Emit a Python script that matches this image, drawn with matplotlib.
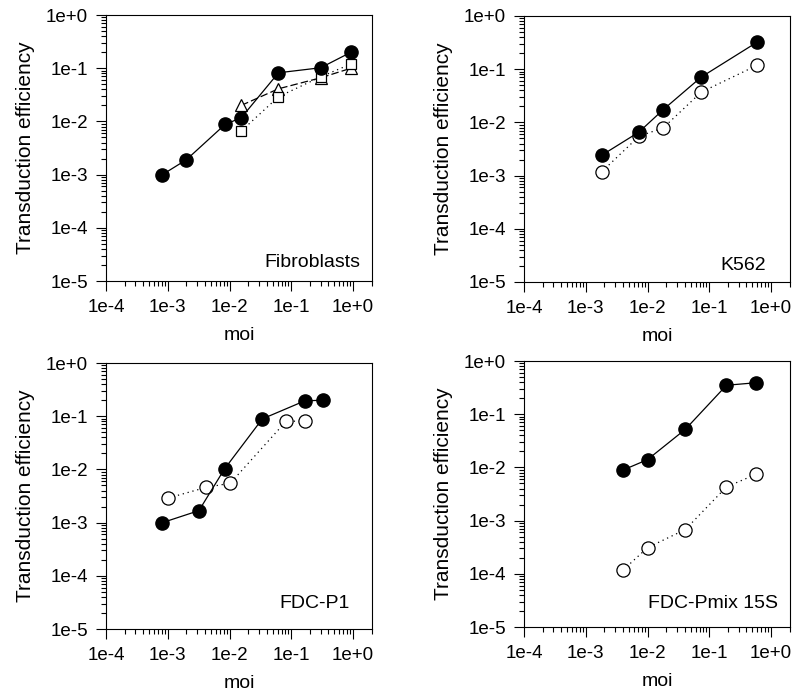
import matplotlib
matplotlib.use("Agg")
import matplotlib.pyplot as plt
from matplotlib.ticker import LogLocator, FixedLocator, FuncFormatter, NullFormatter

plt.rcParams['font.family'] = ['Liberation Sans', 'DejaVu Sans']

# ---- data ----
# Fibroblasts
fib_filled_x = [8.2e-4, 2.0e-3, 8.5e-3, 0.0155, 0.062, 0.30, 0.93]
fib_filled_y = [1.0e-3, 1.9e-3, 8.8e-3, 0.0117, 0.082, 0.102, 0.20]
fib_tri_x = [0.0155, 0.062, 0.30, 0.93]
fib_tri_y = [0.020, 0.041, 0.066, 0.100]
fib_sq_x = [0.0155, 0.062, 0.30, 0.93]
fib_sq_y = [0.0066, 0.029, 0.069, 0.12]

# K562
k562_filled_x = [1.8e-3, 7.3e-3, 0.018, 0.074, 0.59]
k562_filled_y = [2.4e-3, 6.6e-3, 0.0174, 0.071, 0.32]
k562_open_x = [1.8e-3, 7.3e-3, 0.018, 0.074, 0.59]
k562_open_y = [1.17e-3, 5.5e-3, 7.9e-3, 0.037, 0.118]

# FDC-P1
p1_filled_x = [8.2e-4, 3.2e-3, 8.3e-3, 0.034, 0.165, 0.325]
p1_filled_y = [1.0e-3, 1.68e-3, 0.0102, 0.089, 0.194, 0.20]
p1_open_x = [1.02e-3, 4.2e-3, 0.0103, 0.083, 0.165]
p1_open_y = [2.9e-3, 4.6e-3, 5.5e-3, 0.081, 0.080]

# FDC-Pmix 15S
pm_filled_x = [4.0e-3, 0.010, 0.041, 0.19, 0.57]
pm_filled_y = [8.9e-3, 0.014, 0.052, 0.35, 0.39]
pm_open_x = [4.0e-3, 0.010, 0.041, 0.19, 0.57]
pm_open_y = [1.17e-4, 3.1e-4, 6.8e-4, 4.3e-3, 7.4e-3]

decade_ticks = [1e-5, 1e-4, 1e-3, 1e-2, 1e-1, 1e0]
tick_labels = {1e-5: "1e-5", 1e-4: "1e-4", 1e-3: "1e-3", 1e-2: "1e-2", 1e-1: "1e-1", 1e0: "1e+0"}

fig = plt.figure(figsize=(8.0, 6.99), dpi=100)

W, H = 800, 699
def rect(l, t, r, b):
    return [l / W, 1 - b / H, (r - l) / W, (b - t) / H]

axes_rects = [rect(106, 15, 372, 281), rect(524, 16, 790, 282),
              rect(106, 363, 372, 629), rect(524, 361, 790, 627)]
names = ["Fibroblasts", "K562", "FDC-P1", "FDC-Pmix 15S"]
name_pos = [(0.955, 0.053), (0.91, 0.045), (0.917, 0.079), (0.955, 0.071)]

def fmt(v, pos):
    for k, s in tick_labels.items():
        if abs(v - k) / k < 1e-6:
            return s
    return ""

lw = 0.9
ms_c = 9.5

def style(ax):
    ax.set_xscale('log')
    ax.set_yscale('log')
    ax.set_xlim(1e-4, 2.03)
    ax.set_ylim(1e-5, 1e0)
    ax.xaxis.set_major_locator(FixedLocator([1e-4, 1e-3, 1e-2, 1e-1, 1e0]))
    ax.yaxis.set_major_locator(FixedLocator(decade_ticks))
    ax.xaxis.set_minor_locator(LogLocator(base=10, subs=range(2, 10), numticks=20))
    ax.yaxis.set_minor_locator(LogLocator(base=10, subs=range(2, 10), numticks=20))
    ax.xaxis.set_major_formatter(FuncFormatter(fmt))
    ax.yaxis.set_major_formatter(FuncFormatter(fmt))
    ax.xaxis.set_minor_formatter(NullFormatter())
    ax.yaxis.set_minor_formatter(NullFormatter())
    ax.tick_params(which='both', direction='out', top=False, right=False, width=0.8, color='black')
    ax.tick_params(which='major', length=7, pad=6, labelsize=13.5)
    ax.tick_params(which='minor', length=3.5)
    for s in ax.spines.values():
        s.set_linewidth(0.8)
    ax.set_xlabel("moi", fontsize=14, labelpad=8)
    ax.set_ylabel("Transduction efficiency", fontsize=15, labelpad=8)

axs = [fig.add_axes(r) for r in axes_rects]
for ax, nm, (tx, ty) in zip(axs, names, name_pos):
    style(ax)
    ax.text(tx, ty, nm, transform=ax.transAxes, ha='right', va='baseline', fontsize=14)

def filled(ax, x, y):
    ax.plot(x, y, '-', color='black', lw=lw, marker='o', ms=ms_c,
            mfc='black', mec='black', zorder=4)

def open_c(ax, x, y):
    ax.plot(x, y, linestyle=(0, (1, 3)), color='black', lw=lw, marker='o', ms=ms_c,
            mfc='white', mec='black', mew=0.9, zorder=3)

# Fibroblasts
ax = axs[0]
ax.plot(fib_tri_x, fib_tri_y, linestyle=(0, (6, 2.5)), color='black', lw=lw, marker='^', ms=9,
        mfc='white', mec='black', mew=0.9, zorder=2)
ax.plot(fib_sq_x, fib_sq_y, linestyle=(0, (1, 3)), color='black', lw=lw, marker='s', ms=7.5,
        mfc='white', mec='black', mew=0.9, zorder=3)
filled(ax, fib_filled_x, fib_filled_y)

# K562
open_c(axs[1], k562_open_x, k562_open_y)
filled(axs[1], k562_filled_x, k562_filled_y)

# FDC-P1
open_c(axs[2], p1_open_x, p1_open_y)
filled(axs[2], p1_filled_x, p1_filled_y)

# FDC-Pmix 15S
open_c(axs[3], pm_open_x, pm_open_y)
filled(axs[3], pm_filled_x, pm_filled_y)

fig.savefig("out.png", dpi=100)
